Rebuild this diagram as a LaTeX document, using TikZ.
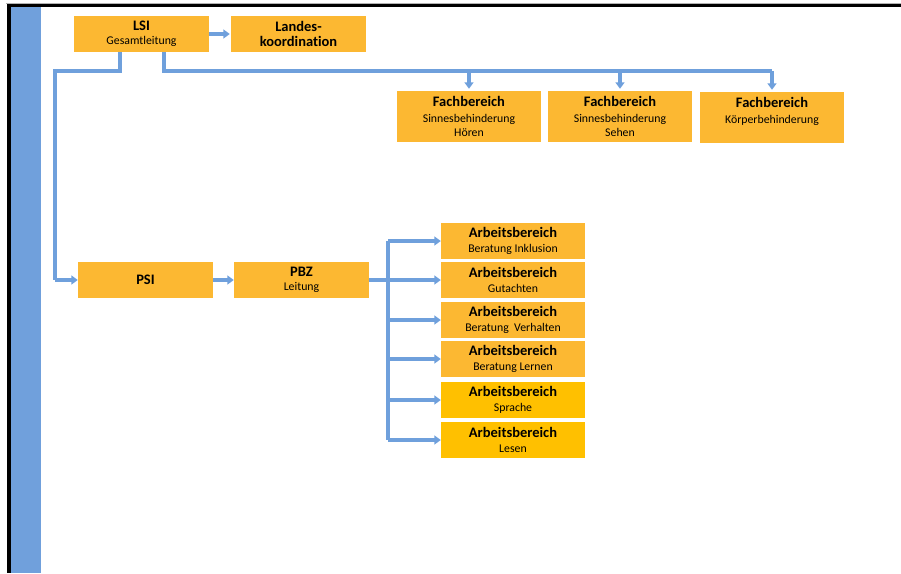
\documentclass[tikz,border=0pt]{standalone}
\usepackage{fontspec}
\setmainfont{Carlito}[Ligatures=NoCommon]
\usetikzlibrary{arrows.meta}
\definecolor{boxA}{RGB}{252,184,50}
\definecolor{boxB}{RGB}{255,192,0}
\definecolor{lineblue}{RGB}{111,160,220}
\definecolor{barblue}{RGB}{112,160,220}
\newcommand\ttl[1]{{\fontsize{14.5}{16}\selectfont\bfseries #1}}
\tikzset{
  box/.style={fill=boxA, inner sep=0pt, align=center, font=\fontsize{11.8}{13.5}\selectfont},
  topbox/.style={box, minimum width=135pt, minimum height=36pt},
  fbbox/.style={box, minimum width=144pt, minimum height=51pt},
  abbox/.style={box, minimum width=144pt, minimum height=36pt},
  conn/.style={draw=lineblue, line width=3.2pt},
  arr/.style={conn, -{Triangle[width=9pt,length=6.5pt]}},
}
\begin{document}
\begin{tikzpicture}[x=1pt,y=-1pt]
\useasboundingbox (0,0) rectangle (901,573);
% frame
\fill[gray!60] (6,2.5) rectangle (901,4);
\fill[black] (7,4) rectangle (901,7);
\fill[black] (7,4) rectangle (10.7,573);
\fill[barblue] (10.7,7) rectangle (40.5,573);

% nodes
\node[topbox] (lsi) at (141.5,34) {\ttl{LSI}\\[1pt]Gesamtleitung};
\node[topbox] (lk) at (298.5,34) {\ttl{Landes-}\\[2pt]\ttl{koordination}};
\node[fbbox] (fb1) at (469,116.5) {\ttl{Fachbereich}\\[2.5pt]Sinnesbehinderung\\Hören};
\node[fbbox] (fb2) at (620,116.5) {\ttl{Fachbereich}\\[2.5pt]Sinnesbehinderung\\Sehen};
\node[fbbox] (fb3) at (772,117.5) {\ttl{Fachbereich}\\[2.5pt]Körperbehinderung\\\mbox{}};
\node[topbox] (psi) at (145.5,280) {\ttl{PSI}};
\node[topbox] (pbz) at (301.5,280) {\ttl{PBZ}\\[1pt]Leitung};
\node[abbox] (ab1) at (513,241) {\ttl{Arbeitsbereich}\\[1pt]Beratung Inklusion};
\node[abbox] (ab2) at (513,280) {\ttl{Arbeitsbereich}\\[1pt]Gutachten};
\node[abbox] (ab3) at (513,320) {\ttl{Arbeitsbereich}\\[1pt]Beratung\ \ Verhalten};
\node[abbox] (ab4) at (513,359) {\ttl{Arbeitsbereich}\\[1pt]Beratung Lernen};
\node[abbox, fill=boxB] (ab5) at (513,400) {\ttl{Arbeitsbereich}\\[1pt]Sprache};
\node[abbox, fill=boxB] (ab6) at (513,440) {\ttl{Arbeitsbereich}\\[1pt]Lesen};

% coordinates
\coordinate (a1) at (120,52);
\coordinate (a2) at (120,71);
\coordinate (a3) at (55,71);
\coordinate (a4) at (55,280);
\coordinate (b1) at (164,52);
\coordinate (b2) at (164,71);
\coordinate (b3) at (772,71);
\coordinate (br) at (388,280);
\coordinate (bt) at (388,241);
\coordinate (bb) at (388,440);

% connectors
\draw[arr, shorten >=1pt] (lsi.east) -- (lk.west);
\draw[conn] (a1) -- (a2) -- (a3) -- (a4);
\draw[arr] (a4) -- (psi.west);
\draw[conn] (b1) -- (b2) -- (b3);
\draw[arr, shorten >=2pt] (fb1.north |- b2) -- (fb1.north);
\draw[arr, shorten >=2pt] (fb2.north |- b2) -- (fb2.north);
\draw[arr, shorten >=2pt] (b3) -- (fb3.north);
\draw[arr] (psi.east) -- (pbz.west);
\draw[conn] (pbz.east) -- (br);
\draw[conn] (bt) -- (bb);
\foreach \n in {ab1,ab2,ab3,ab4,ab5,ab6}{
  \draw[arr] (bt |- \n.west) -- (\n.west);
}
\end{tikzpicture}
\end{document}
